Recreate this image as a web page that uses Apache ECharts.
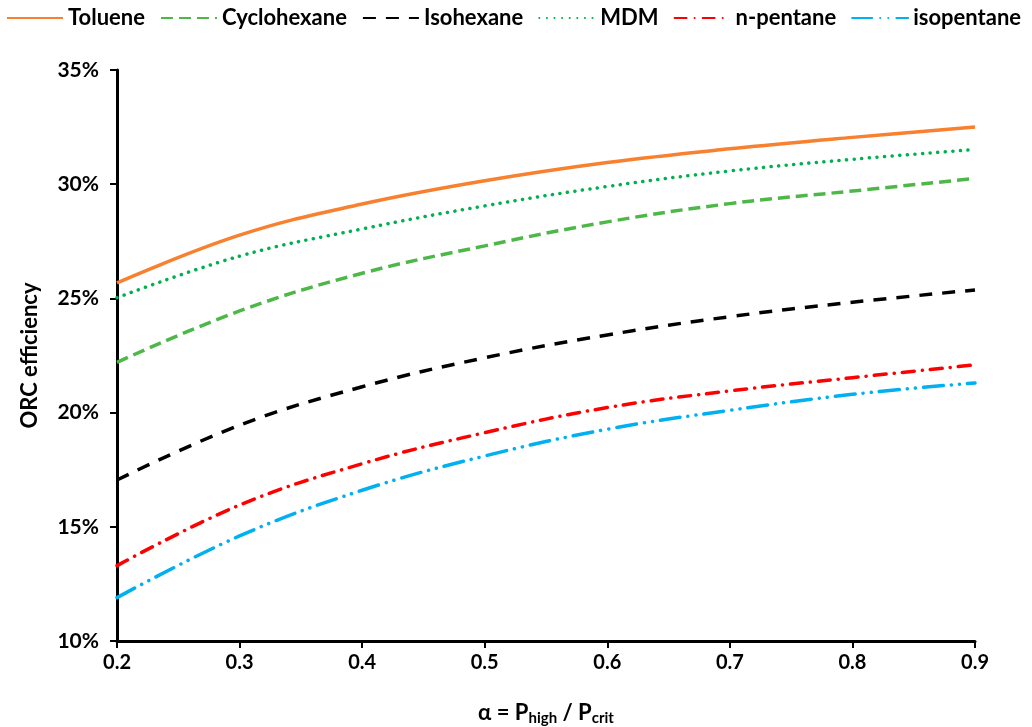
<!DOCTYPE html>
<html>
<head>
<meta charset="utf-8">
<script src="https://cdn.jsdelivr.net/npm/echarts@6/dist/echarts.min.js"></script>
<style>html,body{margin:0;padding:0;background:#fff}#c{width:1032px;height:727px}</style>
</head>
<body>
<div id="c"></div>
<script>
const alpha = [0.2, 0.3, 0.4, 0.5, 0.6, 0.7, 0.8, 0.9];
const toluene     = [25.68, 27.77, 29.13, 30.15, 30.95, 31.55, 32.05, 32.5];
const cyclohexane = [22.2, 24.45, 26.1, 27.3, 28.35, 29.15, 29.7, 30.25];
const isohexane   = [17.05, 19.45, 21.13, 22.4, 23.4, 24.2, 24.83, 25.37];
const mdm         = [25.03, 26.85, 28.04, 29.05, 29.9, 30.58, 31.09, 31.52];
const npentane    = [13.3, 15.95, 17.76, 19.12, 20.22, 20.95, 21.53, 22.09];
const isopentane  = [11.9, 14.6, 16.6, 18.1, 19.27, 20.1, 20.8, 21.3];
const yTicks = [10, 15, 20, 25, 30, 35];
const xTicks = [0.2, 0.3, 0.4, 0.5, 0.6, 0.7, 0.8, 0.9];

const FONT = 'Lato';
const pair = arr => alpha.map((a, i) => [a, arr[i]]);

const seriesDefs = [
  {name: 'Toluene', data: toluene, color: '#F7812F', type: 'solid', cap: 'butt'},
  {name: 'Cyclohexane', data: cyclohexane, color: '#4DB848', type: [12, 6], cap: 'butt'},
  {name: 'Isohexane', data: isohexane, color: '#000000', type: [13, 10], cap: 'butt'},
  {name: 'MDM', data: mdm, color: '#00B050', type: [0.1, 7.5], cap: 'round'},
  {name: 'n-pentane', data: npentane, color: '#FF0000', type: [12, 8, 0.1, 8], cap: 'round'},
  {name: 'isopentane', data: isopentane, color: '#00B0F0', type: [20, 8, 0.1, 8, 0.1, 8], cap: 'round'}
];

const chart = echarts.init(document.getElementById('c'));
chart.setOption({
  animation: false,
  backgroundColor: '#fff',
  legend: {
    top: 7, left: 6, right: 0, padding: 0,
    itemWidth: 56, itemHeight: 14, itemGap: 15,
    itemStyle: {opacity: 0},
    textStyle: {fontFamily: FONT, fontWeight: 'bold', fontSize: 22, color: '#000'},
    data: seriesDefs.map(s => s.name)
  },
  grid: {left: 117, right: 57, top: 70, bottom: 86, containLabel: false, outerBoundsMode: 'none'},
  xAxis: {
    type: 'value', min: 0.2, max: 0.9, interval: 0.1,
    name: '{a|α = P}{s|high}{a| / P}{s|crit}',
    nameLocation: 'middle', nameGap: 58,
    nameTextStyle: {
      rich: {
        a: {fontFamily: FONT, fontWeight: 'bold', fontSize: 22, color: '#000'},
        s: {fontFamily: FONT, fontWeight: 'bold', fontSize: 15, color: '#000', verticalAlign: 'bottom', padding: [12, 0, 0, 0]}
      }
    },
    axisLine: {show: true, lineStyle: {color: '#000', width: 3}},
    axisTick: {show: true, length: 7, inside: false, lineStyle: {color: '#000', width: 2}},
    axisLabel: {fontFamily: FONT, fontWeight: 'bold', fontSize: 20, color: '#000', margin: 12,
      formatter: v => xTicks.find(t => Math.abs(t - v) < 1e-6) !== undefined ? v.toFixed(1) : ''},
    splitLine: {show: false}
  },
  yAxis: {
    type: 'value', min: 10, max: 35, interval: 5,
    name: 'ORC efficiency', nameLocation: 'middle', nameGap: 76, nameRotate: 90,
    nameTextStyle: {fontFamily: FONT, fontWeight: 'bold', fontSize: 22, color: '#000'},
    axisLine: {show: true, lineStyle: {color: '#000', width: 3}},
    axisTick: {show: true, length: 7, inside: false, lineStyle: {color: '#000', width: 2}},
    axisLabel: {fontFamily: FONT, fontWeight: 'bold', fontSize: 21, color: '#000', margin: 18,
      formatter: v => yTicks.includes(Math.round(v)) ? Math.round(v) + '%' : ''},
    splitLine: {show: false}
  },
  series: seriesDefs.map(s => ({
    name: s.name, type: 'line', data: pair(s.data), smooth: 0.4,
    symbol: 'none', showSymbol: false, color: s.color,
    lineStyle: {color: s.color, width: 3.5, type: s.type, cap: s.cap}
  }))
});
</script>
</body>
</html>
